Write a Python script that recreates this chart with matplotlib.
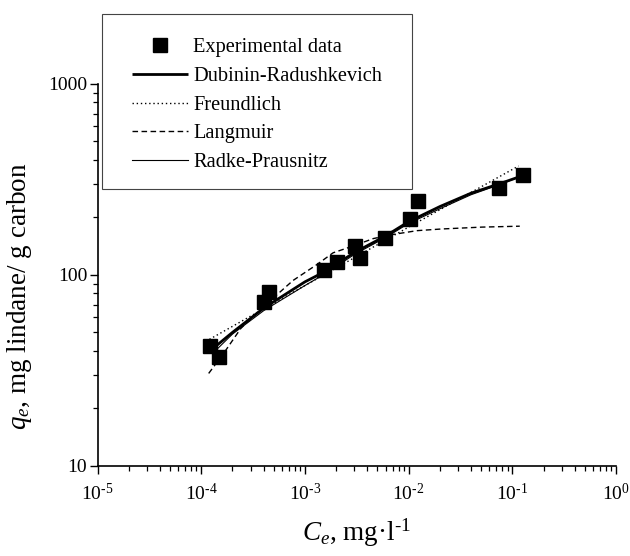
import matplotlib
matplotlib.use("Agg")
import matplotlib.pyplot as plt
from matplotlib.patches import Rectangle
from matplotlib.ticker import LogLocator, NullFormatter, FixedFormatter, FixedLocator

plt.rcParams['font.family'] = ['Liberation Serif', 'DejaVu Serif']
plt.rcParams['mathtext.fontset'] = 'custom'
plt.rcParams['mathtext.rm'] = 'Liberation Serif'
plt.rcParams['mathtext.it'] = 'Liberation Serif:italic'

# experimental points
ce_exp = [1.22e-4, 1.47e-4, 4.05e-4, 4.53e-4, 1.52e-3, 2.03e-3, 3.05e-3, 3.41e-3,
          5.95e-3, 1.04e-2, 1.24e-2, 7.5e-2, 1.26e-1]
qe_exp = [42.5, 37.3, 72.5, 81.8, 106, 116.5, 142, 122, 157, 196, 245, 286, 334]

# model curves
ce_dr = [1.25e-4, 2e-4, 4e-4, 1e-3, 1.5e-3, 3e-3, 6e-3, 1e-2, 2e-2, 4e-2, 7.5e-2, 1.2e-1]
qe_dr = [40.5, 50, 67, 92, 103, 131, 160, 190, 228, 268, 300, 328]

ce_fr = [1.2e-4, 1e-3, 1e-2, 1.15e-1]
qe_fr = [46, 88, 178, 372]

ce_la = [1.18e-4, 1.69e-4, 2.41e-4, 3.76e-4, 5.87e-4, 7.67e-4, 1.31e-3, 1.87e-3,
         2.92e-3, 4.56e-3, 7.1e-3, 1.21e-2, 2.07e-2, 5.06e-2, 1.18e-1]
qe_la = [30.5, 39.7, 52.5, 66.4, 82.2, 93.5, 113.5, 130.6, 141.8, 155, 163, 170.6,
         174, 178, 180]

ce_rp = [1.3e-4, 2e-4, 4e-4, 1e-3, 1.5e-3, 3e-3, 6e-3, 1e-2, 2e-2, 4e-2, 7.5e-2, 1.2e-1]
qe_rp = [39, 49, 65, 88, 100, 128, 157, 186, 222, 263, 297, 328]

labels = ['Experimental data', 'Dubinin-Radushkevich', 'Freundlich', 'Langmuir',
          'Radke-Prausnitz']

x_ticks = [1e-5, 1e-4, 1e-3, 1e-2, 1e-1, 1e0]
x_tick_labels = ['$10^{\u20105}$', '$10^{\u20104}$', '$10^{\u20103}$', '$10^{\u20102}$',
                 '$10^{\u20101}$', '$10^{0}$']
y_ticks = [10, 100, 1000]
y_tick_labels = ['10', '100', '1000']

fig = plt.figure(figsize=(6.3, 5.56), dpi=100)
ax = fig.add_axes([0.1548, 0.162, 0.823, 0.687])

l_dr, = ax.plot(ce_dr, qe_dr, color='black', lw=2.0, solid_capstyle='butt')
l_fr, = ax.plot(ce_fr, qe_fr, color='black', lw=1.0, linestyle=(0, (1, 2)))
l_la, = ax.plot(ce_la, qe_la, color='black', lw=1.0, linestyle=(0, (4, 2.5)))
l_rp, = ax.plot(ce_rp, qe_rp, color='black', lw=0.8)
l_exp, = ax.plot(ce_exp, qe_exp, linestyle='none', marker='s', markersize=9.5,
                 color='black', zorder=5)

ax.set_xscale('log')
ax.set_yscale('log')
ax.set_xlim(1e-5, 1)
ax.set_ylim(10, 1000)

ax.xaxis.set_major_locator(FixedLocator(x_ticks))
ax.xaxis.set_major_formatter(FixedFormatter(x_tick_labels))
ax.xaxis.set_minor_locator(LogLocator(base=10, subs=range(2, 10), numticks=20))
ax.xaxis.set_minor_formatter(NullFormatter())
ax.yaxis.set_major_locator(FixedLocator(y_ticks))
ax.yaxis.set_major_formatter(FixedFormatter(y_tick_labels))
ax.yaxis.set_minor_locator(LogLocator(base=10, subs=range(2, 10), numticks=20))
ax.yaxis.set_minor_formatter(NullFormatter())

ax.spines['top'].set_visible(False)
ax.spines['right'].set_visible(False)
for s in ['left', 'bottom']:
    ax.spines[s].set_linewidth(1.2)
ax.tick_params(which='major', direction='out', length=6, width=1.0, labelsize=14)
ax.tick_params(axis='x', which='major', pad=6)
ax.tick_params(axis='y', which='major', pad=1.5)
ax.tick_params(which='minor', direction='out', length=3.5, width=0.9)

ax.set_xlabel('$C_e$, mg·l$^{\u20101}$', fontsize=19.5, labelpad=9)
ax.set_ylabel('$q_e$, mg lindane/ g carbon', fontsize=19.5)
ax.yaxis.set_label_coords(-0.122, 0.445)

# legend without its own frame; the box is drawn separately
leg = fig.legend([l_exp, l_dr, l_fr, l_la, l_rp], labels,
                 loc='upper left', bbox_to_anchor=(132 / 630, 1 - 38 / 556),
                 borderaxespad=0, borderpad=0, fontsize=14.7, handlelength=2.74,
                 handletextpad=0.25, labelspacing=0.46, frameon=False)
fig.add_artist(Rectangle((102 / 630, 1 - 189 / 556), 310 / 630, 175 / 556,
                         transform=fig.transFigure, fill=False,
                         edgecolor='#444444', linewidth=0.8))

fig.savefig('out.png', dpi=100)
